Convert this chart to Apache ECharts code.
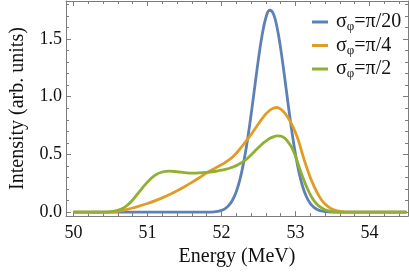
<!DOCTYPE html>
<html><head><meta charset="utf-8">
<script src="https://cdn.jsdelivr.net/npm/echarts@6/dist/echarts.min.js"></script>
<style>html,body{margin:0;padding:0;background:#fff}#c{width:409px;height:272px}</style>
</head><body><div id="c"></div>
<script>
// ---- data ----
const energy = [50,50.1,50.2,50.3,50.4,50.5,50.6,50.7,50.8,50.9,51,51.1,51.2,51.3,51.4,51.5,51.6,51.7,51.8,
  51.9,51.95,52,52.05,52.1,52.15,52.2,52.25,52.3,52.35,52.4,52.45,52.5,52.55,52.6,52.65,52.7,52.75,52.8,52.85,52.9,52.95,53,53.05,53.1,53.15,53.2,53.25,53.3,53.35,53.4,53.45,53.5,53.55,53.6,53.65,53.7,
  53.8,53.9,54,54.1,54.2,54.3,54.4,54.5];
const sigmaPi20 = [0,0,0,0,0,0,0,0,0,0,0,0,0,0,0,0,0,0,0,
  0.003,0.0075,0.016,0.031,0.059,0.105,0.177,0.284,0.431,0.619,0.843,1.086,1.327,1.535,1.683,1.748,1.72,1.603,1.416,1.185,0.939,0.705,0.501,0.338,0.216,0.131,0.075,0.041,0.021,0.010,0.0045,0.002,0.001,0,0,0,0,
  0,0,0,0,0,0,0,0];
const sigmaPi4 = [0,0,0,0,0.0005,0.002,0.008,0.02,0.036,0.055,0.075,0.098,0.124,0.153,0.185,0.22,0.258,0.298,0.34,
  0.376,0.393,0.41,0.43,0.452,0.477,0.51,0.548,0.588,0.63,0.672,0.718,0.765,0.81,0.85,0.88,0.9,0.906,0.892,0.862,0.817,0.76,0.69,0.6,0.49,0.39,0.3,0.225,0.16,0.108,0.07,0.043,0.025,0.013,0.007,0.003,0.001,
  0,0,0,0,0,0,0,0];
const sigmaPi2 = [0,0,0,0,0.0005,0.003,0.015,0.045,0.105,0.185,0.26,0.318,0.348,0.355,0.35,0.343,0.338,0.34,0.345,
  0.352,0.357,0.363,0.37,0.378,0.39,0.403,0.42,0.44,0.465,0.495,0.528,0.56,0.59,0.615,0.637,0.652,0.66,0.658,0.643,0.608,0.56,0.485,0.39,0.3,0.22,0.152,0.1,0.063,0.038,0.021,0.011,0.005,0.002,0.001,0,0,
  0,0,0,0,0,0,0,0];
const seriesNames = ['σφ=π/20', 'σφ=π/4', 'σφ=π/2'];
const legendSuffix = ['=π/20', '=π/4', '=π/2'];
const xTicks = [50, 51, 52, 53, 54];
const yTicks = [0, 0.5, 1.0, 1.5];
const xTitle = 'Energy (MeV)';
const yTitle = 'Intensity (arb. units)';

// ---- chart ----
const F = '"Liberation Serif","Times New Roman",serif';
const frame = '#7c7c7c';
const colors = ['#5E81B5', '#E19C24', '#8FB032'];
const pairs = arr => energy.map((e, i) => [e, arr[i]]);
const X0 = 49.9, X1 = 54.52, Y0 = -0.034, Y1 = 1.828;
const minor = (ticks, step, lo, hi) => {
  const out = [];
  for (let v = Math.ceil(lo / step) * step; v <= hi; v += step) {
    const r = Math.round(v * 1000) / 1000;
    if (!ticks.some(t => Math.abs(t - r) < 1e-6)) out.push(r);
  }
  return out;
};
const xMinor = minor(xTicks, 0.2, X0, X1);
const yMinor = minor(yTicks, 0.1, Y0, Y1);

function ax(pos, min, max, ticks, len, showLine, label, extra) {
  return Object.assign({
    type: 'value', position: pos, min: min, max: max,
    axisLine: { show: showLine, onZero: false, lineStyle: { color: frame, width: 1 } },
    axisTick: { show: true, inside: true, length: len, customValues: ticks, lineStyle: { color: frame } },
    splitLine: { show: false },
    axisLabel: label ? Object.assign({ show: true, customValues: ticks, fontFamily: F, fontSize: 18, color: '#111' }, label) : { show: false }
  }, extra || {});
}

const chart = echarts.init(document.getElementById('c'));
chart.setOption({
  animation: false,
  backgroundColor: '#fff',
  grid: { left: 54, right: 1, top: 1, bottom: 54 },
  xAxis: [
    ax('bottom', X0, X1, xTicks, 5, true, { margin: 8 }, {
      name: xTitle, nameLocation: 'middle', nameGap: 30,
      nameTextStyle: { fontFamily: F, fontSize: 20, color: '#111' } }),
    ax('bottom', X0, X1, xMinor, 3, false, null),
    ax('top', X0, X1, xTicks, 5, true, null),
    ax('top', X0, X1, xMinor, 3, false, null)
  ],
  yAxis: [
    ax('left', Y0, Y1, yTicks, 5, true, { margin: 4, formatter: v => v.toFixed(1) }, {
      name: yTitle, nameLocation: 'middle', nameGap: 38, nameRotate: 90,
      nameTextStyle: { fontFamily: F, fontSize: 20, color: '#111' } }),
    ax('left', Y0, Y1, yMinor, 3, false, null),
    ax('right', Y0, Y1, yTicks, 5, true, null),
    ax('right', Y0, Y1, yMinor, 3, false, null)
  ],
  legend: {
    orient: 'vertical', left: 307, top: 7,
    icon: 'rect', itemWidth: 16, itemHeight: 3, itemGap: 2,
    data: seriesNames,
    formatter: n => '{a|σ}{b|φ}{a|' + legendSuffix[seriesNames.indexOf(n)] + '}',
    textStyle: {
      fontFamily: F, fontSize: 20, color: '#111', padding: [0, 0, 0, 3],
      rich: {
        a: { fontFamily: F, fontSize: 20, color: '#111' },
        b: { fontFamily: F, fontSize: 13, color: '#111', padding: [10, 0, 0, 0] }
      }
    }
  },
  series: [sigmaPi20, sigmaPi4, sigmaPi2].map((arr, i) => ({
    name: seriesNames[i], type: 'line', xAxisIndex: 0, yAxisIndex: 0,
    data: pairs(arr), symbol: 'none', smooth: 0.4, clip: true,
    lineStyle: { color: colors[i], width: 2.8 }, itemStyle: { color: colors[i] }
  }))
});
</script></body></html>
